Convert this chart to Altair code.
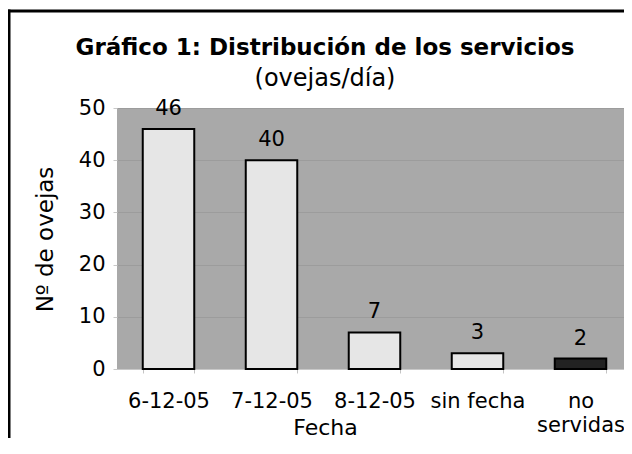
import altair as alt
import pandas as pd

categories = ["6-12-05", "7-12-05", "8-12-05", "sin fecha", "no servidas"]
values = [46, 40, 7, 3, 2]
fills = ["#e6e6e6", "#e6e6e6", "#e6e6e6", "#e6e6e6", "#222222"]
y_ticks = [0, 10, 20, 30, 40, 50]
title_text = "Gráfico 1: Distribución de los servicios"
subtitle_text = "(ovejas/día)"

df = pd.DataFrame({"Fecha": categories, "n": values, "fill": fills})

FONT = "DejaVu Sans"
W, H = 507, 261
PAD_L, PAD_T, PAD_B = 109, 100, 69

x_enc = alt.X(
    "Fecha:N",
    sort=categories,
    scale=alt.Scale(paddingInner=0.5, paddingOuter=0.2112, align=0.592),
    axis=alt.Axis(
        title="Fecha",
        labelAngle=0,
        labelExpr="datum.label == 'no servidas' ? ['no', 'servidas'] : datum.label",
        labelLineHeight=24,
        labelBaseline="alphabetic",
        labelPadding=34,
        labelFontSize=21,
        tickSize=4,
        tickBand="extent",
        tickColor="#c4c4c4",
        domainColor="#c8c8c8",
        titleFontSize=22,
        titleX=208,
        titleY=65,
        titleBaseline="alphabetic",
    ),
)

y_enc = alt.Y(
    "n:Q",
    scale=alt.Scale(domain=[0, 50]),
    axis=alt.Axis(
        values=y_ticks,
        title="Nº de ovejas",
        domain=False,
        tickSize=4,
        tickColor="#c8c8c8",
        gridColor="#9c9c9c",
        labelPadding=8,
        labelFontSize=21,
        titleFontSize=23,
        titleX=-65,
        titleY=131,
        titleBaseline="alphabetic",
    ),
)

bars = alt.Chart(df).mark_bar(stroke="black", strokeWidth=2).encode(
    x=x_enc, y=y_enc, fill=alt.Fill("fill:N", scale=None)
)

labels = alt.Chart(df).mark_text(
    baseline="alphabetic", dy=-14, fontSize=21, font=FONT, color="black"
).encode(x=alt.X("Fecha:N", sort=categories), y="n:Q", text="n:Q")

one = pd.DataFrame({"k": [0]})

frame_left = alt.Chart(one).mark_rule(color="black", strokeWidth=3).encode(
    x=alt.value(-108), y=alt.value(-98.5), y2=alt.value(H + PAD_B)
)
frame_top = alt.Chart(one).mark_rule(color="black", strokeWidth=3).encode(
    x=alt.value(-109.5), x2=alt.value(W), y=alt.value(-97)
)

title = alt.Chart(one).mark_text(
    font=FONT, fontSize=23, fontWeight="bold", baseline="alphabetic",
    align="center", color="black"
).encode(x=alt.value(208), y=alt.value(-53), text=alt.value(title_text))

subtitle = alt.Chart(one).mark_text(
    font=FONT, fontSize=24, baseline="alphabetic", align="center", color="black"
).encode(x=alt.value(208), y=alt.value(-22), text=alt.value(subtitle_text))

chart = (
    alt.layer(bars, labels, frame_left, frame_top, title, subtitle)
    .properties(
        width=W,
        height=H,
        autosize=alt.AutoSizeParams(type="none"),
        padding={"left": PAD_L, "top": PAD_T, "right": 0, "bottom": PAD_B},
    )
    .configure(background="white")
    .configure_view(fill="#a9a9a9", strokeWidth=0)
    .configure_axis(
        labelFont=FONT,
        titleFont=FONT,
        labelColor="black",
        titleColor="black",
        titleFontWeight="normal",
    )
)

chart.save("out.html", embed_options={"renderer": "svg", "actions": False})
